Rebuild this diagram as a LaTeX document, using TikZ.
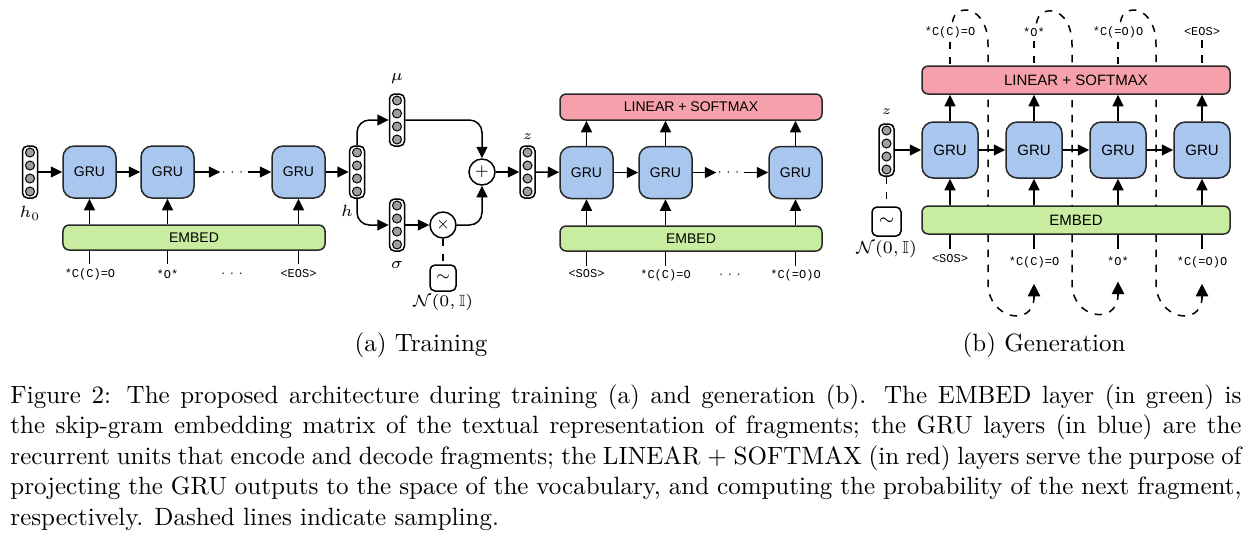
\RequirePackage{fix-cm}
\documentclass[tikz,border=0pt]{standalone}
\usepackage{amsmath,amssymb}
\usepackage{fontspec}
\usetikzlibrary{arrows.meta,backgrounds}
\newfontfamily\dsans{Liberation Sans}
\newfontfamily\dmono{Liberation Mono}
\definecolor{grublue}{RGB}{168,198,238}
\definecolor{embgreen}{RGB}{200,237,160}
\definecolor{linred}{RGB}{245,160,170}
\definecolor{bord}{RGB}{40,40,40}
\tikzset{
 arr/.style={-{Triangle[length=4.6pt,width=4.4pt]}, line width=0.6pt},
 bigarr/.style={-{Triangle[length=5pt,width=5pt]}, line width=0.6pt},
 ln/.style={line width=0.6pt},
 dsh/.style={line width=0.6pt, dash pattern=on 3pt off 3pt},
 gru/.style={draw=bord, line width=0.6pt, fill=grublue, rounded corners=4.5pt, minimum width=21.2pt, minimum height=20.8pt, inner sep=0pt, font=\dsans\fontsize{5.6}{6}\selectfont},
 grub/.style={gru, minimum width=22.4pt, minimum height=22.4pt, font=\dsans\fontsize{6}{7}\selectfont},
 layer/.style={draw=bord, line width=0.6pt, rounded corners=2.5pt, inner sep=0pt, font=\dsans\fontsize{5.6}{6}\selectfont},
 emb/.style={layer, fill=embgreen},
 lin/.style={layer, fill=linred},
 vecbox/.style={draw=black, line width=0.6pt, rounded corners=2pt, minimum width=6pt, minimum height=20.8pt, inner sep=0pt, fill=white},
 unit/.style={draw=black, line width=0.4pt, fill=gray!75},
 opc/.style={circle, draw=black, line width=0.6pt, minimum size=10.4pt, inner sep=0pt, fill=white, font=\fontsize{6}{7}\selectfont},
 noise/.style={draw=black, line width=0.6pt, rounded corners=2pt, minimum size=10.4pt, inner sep=0pt, font=\fontsize{6}{7}\selectfont},
 tok/.style={font=\dmono\fontsize{4.8}{5}\selectfont, inner sep=1.5pt},
 lab/.style={font=\fontsize{6.5}{7}\selectfont, inner sep=0pt},
 dotsn/.style={inner sep=0pt, minimum width=10.4pt, font=\fontsize{5}{6}\selectfont},
 capl/.style={anchor=base west, inner sep=0pt, font=\fontsize{10}{12}\selectfont},
}
\newcommand\myvec[3]{%
 \node[vecbox] (#1) at (#2,#3) {};
 \foreach \k in {-1.5,-0.5,0.5,1.5} \draw[unit] ([yshift=\k*5.2pt]#1.center) circle (1.8pt);
}
\begin{document}
\begin{tikzpicture}[x=0.4pt,y=-0.4pt]
\useasboundingbox (0,0) rectangle (1251,543);
% ---------------- (a) Training ----------------
\myvec{h0}{30}{172}
\node[lab] (h0l) at (30,213) {$h_0$};
\node[gru] (g1) at (89.5,172) {GRU};
\node[gru] (g2) at (167.5,172) {GRU};
\node[dotsn] (d1) at (234,172) {$\cdots$};
\node[gru] (g3) at (298.5,172) {GRU};
\node[emb, minimum width=104.8pt, minimum height=10pt] (e1) at (194,237.5) {EMBED};
\node[tok] (l1) at (90,274) {*C(C)=O};
\node[tok] (l2) at (167.5,274) {*O*};
\node[dotsn] (l0) at (232,274) {$\ldots$};
\node[tok] (l3) at (298.5,274) {<EOS>};
\draw[arr] (h0) -- (g1);
\draw[arr] (g1) -- (g2);
\draw[arr] (g2) -- (d1);
\draw[arr] (d1) -- (g3);
\foreach \g/\l in {g1/l1,g2/l2,g3/l3}{
  \draw[arr] (\g|-e1.north) -- (\g.south);
  \draw[ln] (\g|-l1.north) -- (\g|-e1.south);
}
\myvec{h}{357}{172}
\node[lab] (hl) at (347,211) {$h$};
\myvec{mu}{397}{120}
\node[lab] (mul) at (397,79) {$\mu$};
\myvec{sg}{397}{225}
\node[lab] (sgl) at (397,265) {$\sigma$};
\node[opc] (tm) at (443,225) {$\times$};
\node[opc] (pl) at (482,172) {$+$};
\node[noise] (n1) at (443,278) {$\sim$};
\node[lab] (n1l) at (443,302) {$\mathcal{N}(0,\mathbb{I})$};
\myvec{z1}{527.5}{172}
\node[lab, font=\fontsize{5.2}{6}\selectfont] (z1l) at (527.5,137) {$z$};
\draw[arr] (g3) -- (h);
\draw[arr, rounded corners=5pt] (h.north) |- (mu.west);
\draw[arr, rounded corners=5pt] (h.south) |- (sg.west);
\draw[arr] (sg) -- (tm);
\draw[arr, rounded corners=5pt] (mu.east) -| (pl.north);
\draw[arr, rounded corners=5pt] (tm.east) -| (pl.south);
\draw[dsh] (tm.south) -- (n1.north);
\draw[arr] (pl) -- (z1);
\node[gru] (g4) at (586.5,172.5) {GRU};
\node[gru] (g5) at (665.5,172.5) {GRU};
\node[dotsn] (d2) at (730,172.5) {$\cdots$};
\node[gru] (g6) at (795.5,172.5) {GRU};
\node[lin, minimum width=104.8pt, minimum height=10.4pt] (L1) at (691,107) {LINEAR + SOFTMAX};
\node[emb, minimum width=104.8pt, minimum height=10pt] (e2) at (691,238.5) {EMBED};
\node[tok] (s1) at (586.5,274) {<SOS>};
\node[tok] (s2) at (665.5,275) {*C(C)=O};
\node[dotsn] (s0) at (730,275) {$\ldots$};
\node[tok] (s3) at (795.5,275) {*C(=O)O};
\draw[arr] (z1) -- (g4);
\draw[arr] (g4) -- (g5);
\draw[arr] (g5) -- (d2);
\draw[arr] (d2) -- (g6);
\foreach \g in {g4,g5,g6}{
  \draw[arr] (\g|-e2.north) -- (\g.south);
  \draw[arr] (\g.north) -- (\g|-L1.south);
  \draw[ln] (\g|-s1.north) -- (\g|-e2.south);
}
% ---------------- (b) Generation ----------------
\myvec{z2}{886.5}{150}
\node[lab, font=\fontsize{5.2}{6}\selectfont] (z2l) at (886.5,112) {$z$};
\node[noise, minimum size=11.6pt, font=\fontsize{6.8}{7}\selectfont] (n2) at (886.5,221.5) {$\sim$};
\node[lab, font=\fontsize{7}{8}\selectfont] (n2l) at (886.5,249) {$\mathcal{N}(0,\mathbb{I})$};
\node[grub] (G1) at (950,150) {GRU};
\node[grub] (G2) at (1034,150) {GRU};
\node[grub] (G3) at (1118,150) {GRU};
\node[grub] (G4) at (1202,150) {GRU};
\node[lin, minimum width=123.2pt, minimum height=11.2pt, font=\dsans\fontsize{6}{7}\selectfont] (L2) at (1076,80) {LINEAR + SOFTMAX};
\node[emb, minimum width=123.2pt, minimum height=11.2pt, font=\dsans\fontsize{6}{7}\selectfont] (E2) at (1076,220) {EMBED};
\node[tok] (t1) at (950,32) {*C(C)=O};
\node[tok] (t2) at (1034,32) {*O*};
\node[tok] (t3) at (1118,32) {*C(=O)O};
\node[tok] (t4) at (1202,32) {<EOS>};
\node[tok] (b1) at (950,259) {<SOS>};
\node[tok] (b2) at (1034,262) {*C(C)=O};
\node[tok] (b3) at (1118,261) {*O*};
\node[tok] (b4) at (1202,262) {*C(=O)O};
\draw[dsh] (z2.south) -- (n2.north);
\draw[arr] (z2) -- (G1);
\draw[arr] (G1) -- (G2);
\draw[arr] (G2) -- (G3);
\draw[arr] (G3) -- (G4);
\foreach \g/\t/\b in {G1/t1/b1,G2/t2/b2,G3/t3/b3,G4/t4/b4}{
  \draw[arr] (\g|-E2.north) -- (\g.south);
  \draw[arr] (\g.north) -- (\g|-L2.south);
  \draw[dsh] (\t.south) -- (\t.south|-L2.north);
  \draw[ln] (\g|-E2.south) -- ++(0,14);
}
\coordinate (c1a) at (988,45);  \coordinate (c1b) at (988,285);
\coordinate (c2a) at (1072,45); \coordinate (c2b) at (1072,285);
\coordinate (c3a) at (1156,45); \coordinate (c3b) at (1156,285);
\begin{pgfonlayer}{background}
\foreach \t/\ca/\cb/\b in {t1/c1a/c1b/b2,t2/c2a/c2b/b3,t3/c3a/c3b/b4}{
  \draw[dsh] ([xshift=1pt]\t.north) .. controls +(2,-20) and +(0,-40) .. (\ca) -- (\cb) .. controls +(1,33) and +(-2,30) .. ([yshift=-10.5pt]\b.south);
  \draw[bigarr] ([yshift=-10.5pt]\b.south) -- ([yshift=-4.8pt]\b.south);
}
\end{pgfonlayer}
% ---------------- captions ----------------
\node[font=\fontsize{10}{12}\selectfont] (ca) at (421,345) {(a) Training};
\node[font=\fontsize{10}{12}\selectfont] (cb) at (1044,345) {(b) Generation};
\node[capl] (cap1) at (10,403) {\makebox[492.4pt][s]{Figure 2: The proposed architecture during training (a) and generation (b). The EMBED layer (in green) is}};
\node[capl] (cap2) at (10,433.5) {\makebox[492.4pt][s]{the skip-gram embedding matrix of the textual representation of fragments; the GRU layers (in blue) are the}};
\node[capl] (cap3) at (10,464) {\makebox[492.4pt][s]{recurrent units that encode and decode fragments; the LINEAR $+$ SOFTMAX (in red) layers serve the purpose of}};
\node[capl] (cap4) at (10,494.5) {\makebox[492.4pt][s]{projecting the GRU outputs to the space of the vocabulary, and computing the probability of the next fragment,}};
\node[capl] (cap5) at (10,525) {respectively. Dashed lines indicate sampling.};
\end{tikzpicture}
\end{document}
